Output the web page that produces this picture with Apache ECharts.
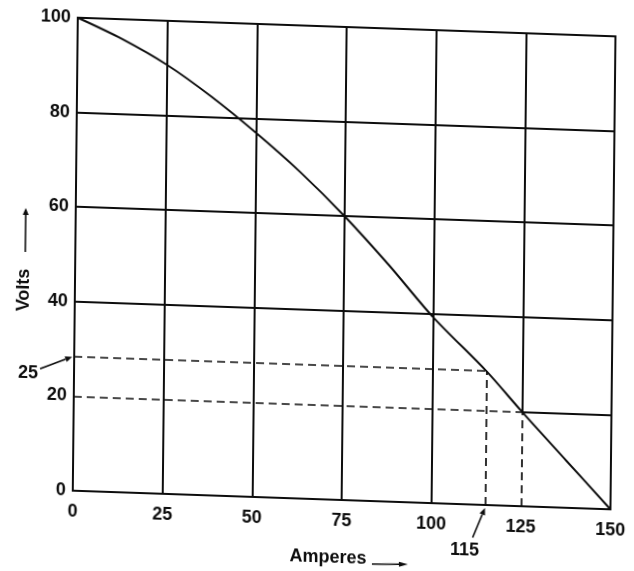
<!DOCTYPE html>
<html><head><meta charset="utf-8">
<style>
html,body{margin:0;padding:0;overflow:hidden;background:#fff}
#c{width:634px;height:571px;transform-origin:0 0;transform:matrix(1,0.0347,-0.0106,1,0,0)}
</style>
<script src="https://cdn.jsdelivr.net/npm/echarts@6/dist/echarts.min.js"></script>
</head><body><div id="c"></div>
<script>
// Data
const amperes = [0, 12.5, 25, 37.5, 50, 62.5, 75, 87.5, 100, 115, 125, 137.5, 150];
const volts   = [100, 95.8, 90.7, 84.3, 77, 69, 60, 50, 39.3, 28.3, 20, 10, 0];
const xTicks = [0, 25, 50, 75, 100, 125, 150];
const yTicks = [0, 20, 40, 60, 80, 100];
const fullHGrid = [40, 60, 80];
const fullVGrid = [25, 50, 75, 100];
const markA1 = 115, markV1 = 28.3, markLabel1 = '25', markALabel1 = '115';
const markA2 = 125, markV2 = 20;

const FONT = 'Liberation Sans, Arial, sans-serif';
const INK = '#0d0d0d';
const solid = {color: INK, width: 2, type: 'solid'};
const dashed = {color: INK, width: 1.7, type: [8, 5]};
const seg = (x1, y1, x2, y2, st) => [{coord: [x1, y1], lineStyle: st}, {coord: [x2, y2]}];

const xMax = xTicks[xTicks.length - 1], yMax = yTicks[yTicks.length - 1];
const lines = [];
fullHGrid.forEach(v => lines.push(seg(0, v, xMax, v, solid)));
fullVGrid.forEach(a => lines.push(seg(a, 0, a, yMax, solid)));
lines.push(seg(markA2, markV2, xMax, markV2, solid));
lines.push(seg(markA2, markV2, markA2, yMax, solid));
lines.push(seg(0, markV2, markA2, markV2, dashed));
lines.push(seg(markA2, 0, markA2, markV2, dashed));
lines.push(seg(0, markV1, markA1, markV1, dashed));
lines.push(seg(markA1, 0, markA1, markV1, dashed));

const chart = echarts.init(document.getElementById('c'), null, {renderer: 'canvas'});
chart.setOption({
  animation: false,
  backgroundColor: '#fff',
  grid: {left: 78, right: 8, top: 15, bottom: 83, show: true, borderColor: INK, borderWidth: 2, backgroundColor: 'transparent'},
  xAxis: {
    type: 'value', min: 0, max: xMax, interval: 25,
    axisLine: {show: false}, axisTick: {show: false}, splitLine: {show: false},
    axisLabel: {margin: 12, color: INK, fontSize: 18, fontWeight: 'bold', fontFamily: FONT}
  },
  yAxis: {
    type: 'value', min: 0, max: yMax, interval: 20,
    axisLine: {show: false}, axisTick: {show: false}, splitLine: {show: false},
    axisLabel: {margin: 7, color: INK, fontSize: 18, fontWeight: 'bold', fontFamily: FONT}
  },
  series: [{
    type: 'line',
    data: amperes.map((a, i) => [a, volts[i]]),
    showSymbol: false, smooth: 0.3,
    lineStyle: {color: INK, width: 2},
    z: 3,
    markLine: {silent: true, symbol: ['none', 'none'], label: {show: false}, emphasis: {disabled: true}, data: lines}
  }]
});

function arrow(x1, y1, x2, y2, head, hw) {
  const dx = x2 - x1, dy = y2 - y1, L = Math.hypot(dx, dy);
  const ux = dx / L, uy = dy / L;
  const bx = x2 - ux * head, by = y2 - uy * head;
  return [
    {type: 'line', shape: {x1, y1, x2: bx, y2: by}, style: {stroke: INK, lineWidth: 1.6}},
    {type: 'polygon', shape: {points: [[x2, y2], [bx - uy * hw, by + ux * hw], [bx + uy * hw, by - ux * hw]]}, style: {fill: INK}}
  ];
}
const txt = (x, y, text, rot) => ({type: 'text', x, y, rotation: rot || 0,
  style: {text, fill: INK, font: 'bold 18px ' + FONT, align: 'center', verticalAlign: 'middle'}});

const p1 = chart.convertToPixel({gridIndex: 0}, [0, markV1]);
const p2 = chart.convertToPixel({gridIndex: 0}, [markA1, 0]);
const g = [];
g.push(txt(p1[0] - 46, p1[1] + 18, markLabel1));
g.push(...arrow(p1[0] - 34, p1[1] + 13, p1[0] - 2, p1[1], 7, 3));
g.push(txt(p2[0] - 20, p2[1] + 46, markALabel1));
g.push(...arrow(p2[0] - 12, p2[1] + 33, p2[0], p2[1] + 3, 7, 3));
g.push(txt(27, 289, 'Volts', Math.PI / 2));
g.push(...arrow(28, 251, 28, 207, 7, 3));
g.push(txt(334, 546, 'Amperes'));
g.push(...arrow(378, 551, 414, 550, 9, 2.5));
chart.setOption({graphic: {elements: g}});
</script>
</body></html>
